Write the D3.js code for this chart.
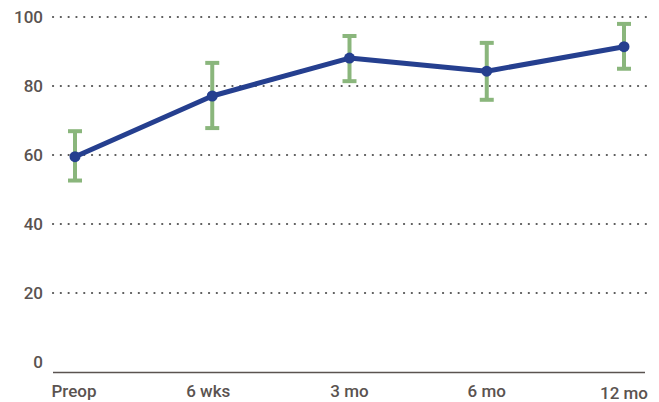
<!DOCTYPE html>
<html>
<head>
<meta charset="utf-8">
<script src="https://cdn.jsdelivr.net/npm/d3@7"></script>
<style>
  body { margin: 0; background: #fff; }
  text { font-family: Roboto, sans-serif; font-weight: 500; fill: #5a5350; }
</style>
</head>
<body>
<div id="chart"></div>
<script>
// values
const categories = ["Preop", "6 wks", "3 mo", "6 mo", "12 mo"];
const means = [59.5, 77.1, 88.1, 84.3, 91.4];
const lower = [52.6, 67.8, 81.4, 76.0, 85.0];
const upper = [66.9, 86.7, 94.5, 92.5, 98.0];
const yTicks = [0, 20, 40, 60, 80, 100];

const width = 659, height = 402;

const svg = d3.select("#chart").append("svg")
  .attr("width", width)
  .attr("height", height);

const x = d3.scalePoint().domain(categories).range([75, 624]);
const y = d3.scaleLinear().domain([0, 100]).range([362, 17]);

const data = categories.map((c, i) => ({ cat: c, mean: means[i], lo: lower[i], hi: upper[i] }));

// dotted gridlines
svg.append("g")
  .selectAll("line")
  .data(yTicks.filter(d => d > 0))
  .join("line")
  .attr("x1", 53)
  .attr("x2", 646)
  .attr("y1", d => y(d))
  .attr("y2", d => y(d))
  .attr("stroke", "#555")
  .attr("stroke-width", 2.2)
  .attr("stroke-linecap", "round")
  .attr("stroke-dasharray", "0.1,7.7");

// y labels
svg.append("g")
  .selectAll("text")
  .data(yTicks)
  .join("text")
  .attr("x", 43)
  .attr("y", d => y(d))
  .attr("dy", "0.36em")
  .attr("text-anchor", "end")
  .style("font-size", "17px")
  .text(d => d);

// baseline
svg.append("line")
  .attr("x1", 53).attr("x2", 645)
  .attr("y1", 372.5).attr("y2", 372.5)
  .attr("stroke", "#5a5350")
  .attr("stroke-width", 1.3);

// x labels
svg.append("g")
  .selectAll("text")
  .data(categories)
  .join("text")
  .attr("x", (d, i) => i === 0 ? x(d) - 1 : i === 1 ? x(d) - 4 : x(d))
  .attr("y", (d, i) => i === categories.length - 1 ? 399 : 397)
  .attr("text-anchor", "middle")
  .style("font-size", "17px")
  .text(d => d);

// error bars
const eb = svg.append("g")
  .attr("stroke", "#8ab67c")
  .attr("stroke-width", 4);

eb.selectAll("line.v")
  .data(data)
  .join("line")
  .attr("class", "v")
  .attr("x1", d => x(d.cat)).attr("x2", d => x(d.cat))
  .attr("y1", d => y(d.lo)).attr("y2", d => y(d.hi));

eb.selectAll("line.top")
  .data(data)
  .join("line")
  .attr("class", "top")
  .attr("x1", d => x(d.cat) - 7).attr("x2", d => x(d.cat) + 7)
  .attr("y1", d => y(d.hi)).attr("y2", d => y(d.hi));

eb.selectAll("line.bot")
  .data(data)
  .join("line")
  .attr("class", "bot")
  .attr("x1", d => x(d.cat) - 7).attr("x2", d => x(d.cat) + 7)
  .attr("y1", d => y(d.lo)).attr("y2", d => y(d.lo));

// mean line
const line = d3.line()
  .x(d => x(d.cat))
  .y(d => y(d.mean));

svg.append("path")
  .datum(data)
  .attr("d", line)
  .attr("fill", "none")
  .attr("stroke", "#253f8f")
  .attr("stroke-width", 5)
  .attr("stroke-linejoin", "round");

svg.append("g")
  .selectAll("circle")
  .data(data)
  .join("circle")
  .attr("cx", d => x(d.cat))
  .attr("cy", d => y(d.mean))
  .attr("r", 5.5)
  .attr("fill", "#253f8f");
</script>
</body>
</html>
